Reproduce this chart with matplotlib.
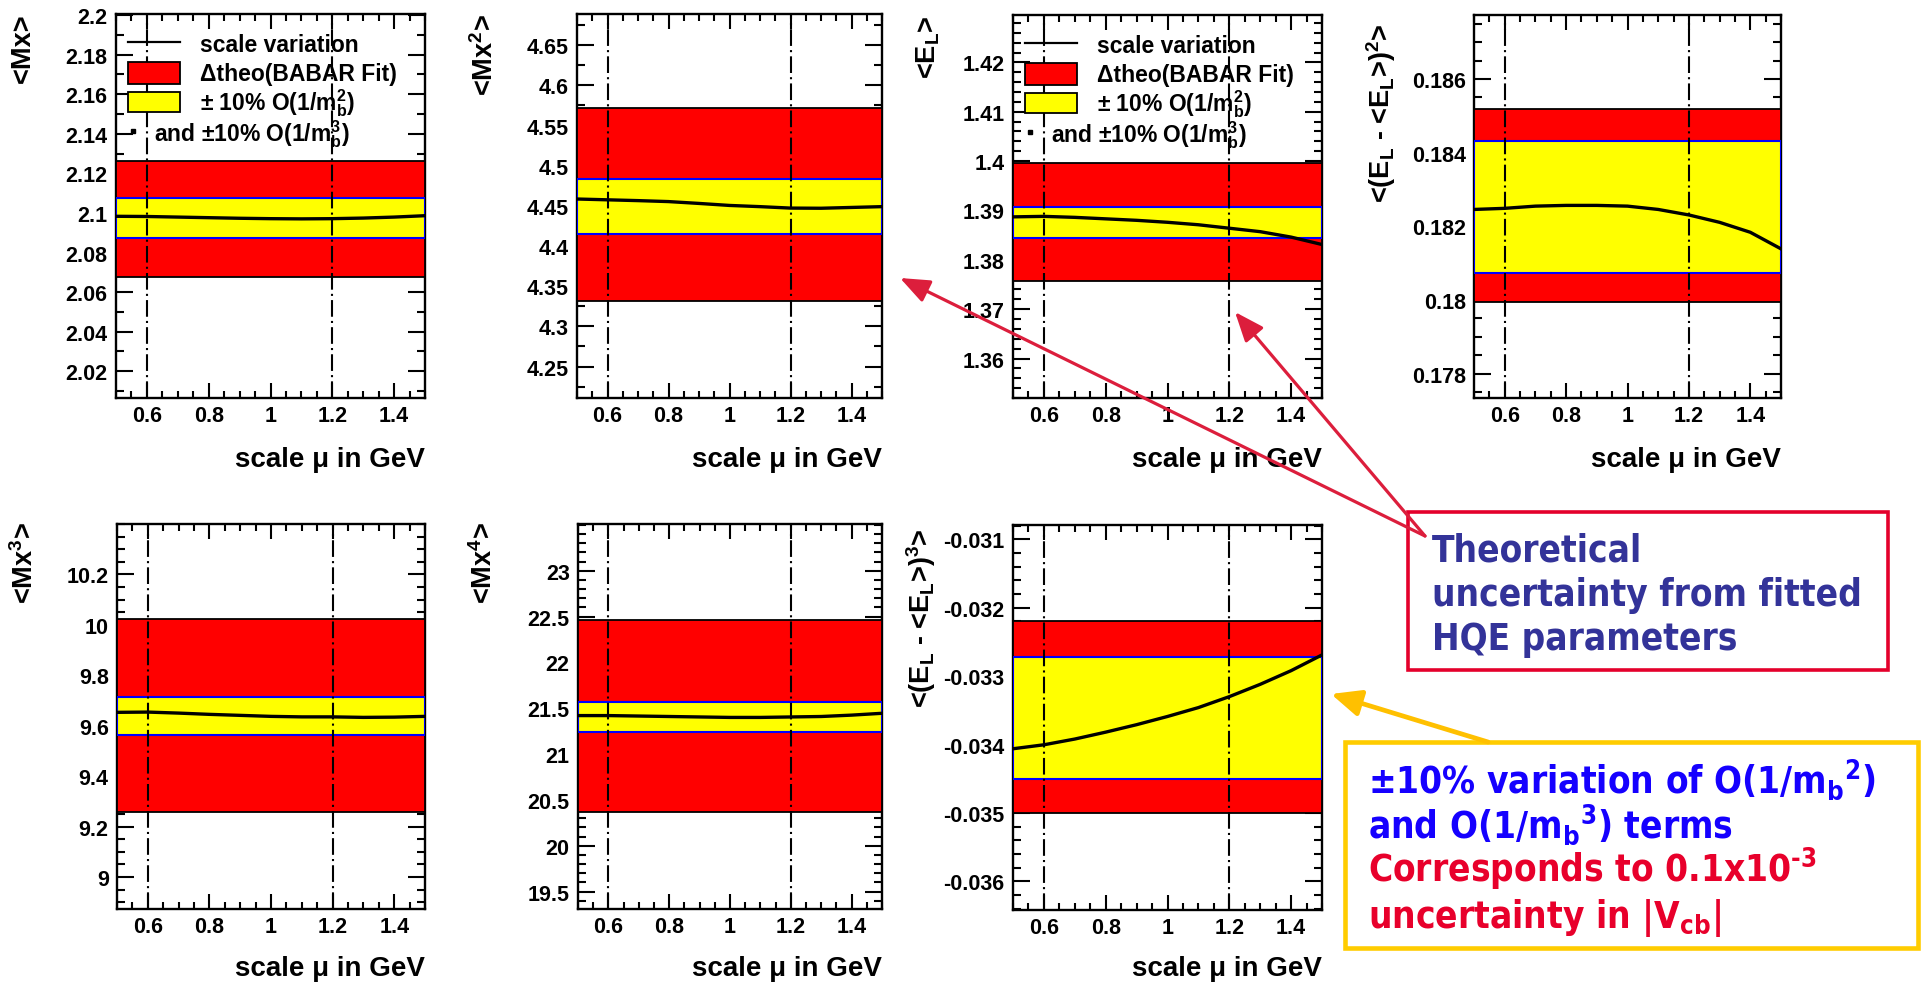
import matplotlib
matplotlib.use("Agg")
import matplotlib.pyplot as plt
from matplotlib.patches import Rectangle, FancyArrowPatch
from matplotlib.ticker import FixedLocator, MultipleLocator, FuncFormatter
from matplotlib import font_manager
from matplotlib.font_manager import FontProperties

plt.rcParams['font.family'] = ['Liberation Sans', 'DejaVu Sans']
plt.rcParams['font.weight'] = 'bold'
plt.rcParams['mathtext.default'] = 'regular'

W, H = 1921, 987

# ---------------- data ----------------
mu = [0.5, 0.6, 0.7, 0.8, 0.9, 1.0, 1.1, 1.2, 1.3, 1.4, 1.5]

mx1_line = [2.0983, 2.0982, 2.0979, 2.0976, 2.0973, 2.0971, 2.0970, 2.0971, 2.0974, 2.0979, 2.0986]
mx1_red = (2.0677, 2.1264)
mx1_yellow = (2.0871, 2.1073)
mx1_ylim = (2.0065, 2.2005)
mx1_ticks = [2.02, 2.04, 2.06, 2.08, 2.1, 2.12, 2.14, 2.16, 2.18, 2.2]

mx2_line = [4.4585, 4.4575, 4.4565, 4.4553, 4.4530, 4.4505, 4.4490, 4.4472, 4.4470, 4.4480, 4.4490]
mx2_red = (4.331, 4.572)
mx2_yellow = (4.415, 4.4837)
mx2_ylim = (4.2108, 4.6888)
mx2_ticks = [4.25, 4.3, 4.35, 4.4, 4.45, 4.5, 4.55, 4.6, 4.65]

el_line = [1.3887, 1.3888, 1.3886, 1.3883, 1.3880, 1.3876, 1.3871, 1.3864, 1.3857, 1.3846, 1.3831]
el_red = (1.3757, 1.3996)
el_yellow = (1.3845, 1.3908)
el_ylim = (1.3520, 1.4296)
el_ticks = [1.36, 1.37, 1.38, 1.39, 1.40, 1.41, 1.42]

el2_line = [0.18246, 0.18249, 0.18255, 0.18257, 0.18257, 0.18255, 0.18246, 0.18231, 0.18211, 0.18184, 0.18139]
el2_red = (0.17996, 0.18519)
el2_yellow = (0.18074, 0.18431)
el2_ylim = (0.17734, 0.18774)
el2_ticks = [0.178, 0.180, 0.182, 0.184, 0.186]

mx3_line = [9.653, 9.654, 9.650, 9.645, 9.641, 9.637, 9.635, 9.635, 9.633, 9.634, 9.637]
mx3_red = (9.258, 10.024)
mx3_yellow = (9.563, 9.715)
mx3_ylim = (8.873, 10.400)
mx3_ticks = [9.0, 9.2, 9.4, 9.6, 9.8, 10.0, 10.2]

mx4_line = [21.42, 21.42, 21.415, 21.41, 21.405, 21.40, 21.40, 21.405, 21.41, 21.425, 21.445]
mx4_red = (20.366, 22.46)
mx4_yellow = (21.245, 21.572)
mx4_ylim = (19.31, 23.51)
mx4_ticks = [19.5, 20.0, 20.5, 21.0, 21.5, 22.0, 22.5, 23.0]

el3_line = [-0.034062, -0.034004, -0.03392, -0.033819, -0.03371, -0.03359,
            -0.03346, -0.03330, -0.03312, -0.03292, -0.03269]
el3_red = (-0.03500, -0.03219)
el3_yellow = (-0.034505, -0.032723)
el3_ylim = (-0.03642, -0.03079)
el3_ticks = [-0.036, -0.035, -0.034, -0.033, -0.032, -0.031]

x_ticks = [0.6, 0.8, 1.0, 1.2, 1.4]
scale_marks = [0.6, 1.2]

titles = [r"<Mx>", r"<Mx$^{2}$>", r"<E$_{L}$>", r"<(E$_{L}$ - <E$_{L}$>)$^{2}$>",
          r"<Mx$^{3}$>", r"<Mx$^{4}$>", r"<(E$_{L}$ - <E$_{L}$>)$^{3}$>"]

legend_labels = ["scale variation", u"\u0394theo(BABAR Fit)",
                 u"\u00b1 10% O(1/m$_{b}^{2}$)", u"and \u00b110% O(1/m$_{b}^{3}$)"]

# ---------------- layout (pixels: left, top, right, bottom) ----------------
panels = [
    dict(rect=(116, 15, 425, 399), line=mx1_line, red=mx1_red, yel=mx1_yellow, ylim=mx1_ylim,
         ticks=mx1_ticks, minor=0.01, title=titles[0], tx=23, ty=13, key=True),
    dict(rect=(577, 15, 882, 399), line=mx2_line, red=mx2_red, yel=mx2_yellow, ylim=mx2_ylim,
         ticks=mx2_ticks, minor=0.025, title=titles[1], tx=485, ty=14, key=False),
    dict(rect=(1013, 16, 1322, 399), line=el_line, red=el_red, yel=el_yellow, ylim=el_ylim,
         ticks=el_ticks, minor=0.002, title=titles[2], tx=928, ty=16, key=True),
    dict(rect=(1474, 16, 1781, 399), line=el2_line, red=el2_red, yel=el2_yellow, ylim=el2_ylim,
         ticks=el2_ticks, minor=0.0005, title=titles[3], tx=1381, ty=24, key=False),
    dict(rect=(117, 525, 425, 910), line=mx3_line, red=mx3_red, yel=mx3_yellow, ylim=mx3_ylim,
         ticks=mx3_ticks, minor=0.05, title=titles[4], tx=25, ty=522, key=False),
    dict(rect=(578, 525, 882, 910), line=mx4_line, red=mx4_red, yel=mx4_yellow, ylim=mx4_ylim,
         ticks=mx4_ticks, minor=0.1, title=titles[5], tx=484, ty=522, key=False),
    dict(rect=(1013, 526, 1322, 911), line=el3_line, red=el3_red, yel=el3_yellow, ylim=el3_ylim,
         ticks=el3_ticks, minor=0.0002, title=titles[6], tx=921, ty=529, key=False),
]

fig = plt.figure(figsize=(W / 100, H / 100), dpi=100)
fig.patch.set_facecolor('white')


def frac_rect(l, t, r, b):
    return [l / W, 1 - b / H, (r - l) / W, (b - t) / H]


def fpt(x, y):
    return (x / W, 1 - y / H)


fmt = FuncFormatter(lambda v, p: f"{v:.6g}")


def draw_key(ax, wpx, hpx):
    def a(dx, dy):
        return (dx / wpx, 1 - dy / hpx)
    kw = dict(transform=ax.transAxes, clip_on=False)
    ax.plot([a(12, 0)[0], a(64, 0)[0]], [a(0, 28)[1]] * 2, color='black', lw=1.6, zorder=6, **kw)
    for (y0, y1), col in (((48, 70), '#ff0000'), ((78, 98), '#ffff00')):
        x0, yb = a(12, y1)
        x1, yt = a(64, y0)
        ax.add_patch(Rectangle((x0, yb), x1 - x0, yt - yb, facecolor=col,
                               edgecolor='black', lw=1.3, zorder=6, **kw))
    ax.plot([a(17, 0)[0]], [a(0, 117)[1]], marker='s', ms=3, color='black', zorder=6, **kw)
    for (dx, dy), lab in zip(((84, 37), (84, 66), (84, 95), (38, 126)), legend_labels):
        ax.text(*a(dx, dy), lab, ha='left', va='baseline', fontsize=16.5, zorder=6,
                transform=ax.transAxes)


for p in panels:
    l, t, r, b = p['rect']
    ax = fig.add_axes(frac_rect(l, t, r, b))
    ax.set_xlim(0.5, 1.5)
    ax.set_ylim(*p['ylim'])
    ax.axhspan(*p['red'], facecolor='#ff0000', edgecolor='black', lw=1.3, zorder=1)
    ax.axhspan(*p['yel'], facecolor='#ffff00', edgecolor='#0000ff', lw=1.5, zorder=1.1)
    ax.plot(mu, p['line'], color='black', lw=2.4, zorder=3)
    for xv in scale_marks:
        ax.axvline(xv, color='black', lw=1.5, ls=(0, (8, 2, 1, 2)), zorder=2.8)
    ax.set_axisbelow(True)
    for s in ax.spines.values():
        s.set_linewidth(1.7)
        s.set_zorder(0.8)
    ax.xaxis.set_major_locator(FixedLocator(x_ticks))
    ax.xaxis.set_minor_locator(MultipleLocator(0.05))
    ax.yaxis.set_major_locator(FixedLocator(p['ticks']))
    ax.yaxis.set_minor_locator(MultipleLocator(p['minor']))
    ax.xaxis.set_major_formatter(fmt)
    ax.yaxis.set_major_formatter(fmt)
    ax.tick_params(which='both', direction='in', top=True, right=True, width=1.5,
                   labelsize=15.5, colors='black')
    ax.tick_params(axis='x', which='major', length=11, pad=5)
    ax.tick_params(axis='x', which='minor', length=5)
    ax.tick_params(axis='y', which='major', length=12, pad=6)
    ax.tick_params(axis='y', which='minor', length=6)
    fig.text(p['tx'] / W, 1 - p['ty'] / H, p['title'], rotation=90, ha='center', va='top',
             fontsize=19.5)
    xl_base = 467 if t < 300 else 976
    fig.text(r / W, 1 - xl_base / H, u"scale \u03bc in GeV", ha='right', va='baseline',
             fontsize=20)
    if p['key']:
        draw_key(ax, r - l, b - t)

# ---------------- call-out boxes ----------------
cond = [f.fname for f in font_manager.fontManager.ttflist
        if f.name == 'DejaVu Sans' and 'Condensed' in f.fname and 'Bold' in f.fname
        and 'Oblique' not in f.fname]
if cond:
    callout_fp = FontProperties(fname=cond[0], size=26.5)
else:
    callout_fp = FontProperties(family='DejaVu Sans', weight='bold', size=24)

navy = '#333399'
blue = '#1500ff'
crimson = '#e8002b'
gold = '#ffcc00'

fig.add_artist(Rectangle(fpt(1408, 671), (1888 - 1408) / W, (671 - 513) / H,
                         transform=fig.transFigure, fill=False, edgecolor='#e4002b', lw=2.6,
                         zorder=10))
fig.add_artist(Rectangle(fpt(1345, 949), (1918 - 1345) / W, (949 - 743) / H,
                         transform=fig.transFigure, fill=False, edgecolor=gold, lw=3.3,
                         zorder=10))

for txt, yb in (("Theoretical", 562), ("uncertainty from fitted", 606), ("HQE parameters", 650)):
    fig.text(*fpt(1432, yb), txt, color=navy, fontproperties=callout_fp, ha='left',
             va='baseline', zorder=11)

callout2 = [
    (u"\u00b110% variation of O(1/m${}_{b}{}^{2}$)", blue, 793),
    (u"and O(1/m${}_{b}{}^{3}$) terms", blue, 838),
    (u"Corresponds to 0.1x10$^{\u20103}$", crimson, 883),
    (u"uncertainty in |V$_{cb}$|", crimson, 928),
]
for txt, col, yb in callout2:
    fig.text(*fpt(1368, yb), txt, color=col, fontproperties=callout_fp, ha='left',
             va='baseline', zorder=11)

for tip in ((900, 279), (1235, 313)):
    fig.add_artist(FancyArrowPatch(fpt(1425, 537), fpt(*tip), transform=fig.transFigure,
                                   arrowstyle='-|>,head_length=0.9,head_width=0.36',
                                   mutation_scale=20, color='#dc1e3c', lw=2.3,
                                   shrinkA=0, shrinkB=0, zorder=12))
fig.add_artist(FancyArrowPatch(fpt(1488, 743), fpt(1331, 695), transform=fig.transFigure,
                               arrowstyle='-|>,head_length=0.9,head_width=0.4',
                               mutation_scale=20, color='#ffc000', lw=3.4,
                               shrinkA=0, shrinkB=0, zorder=12))

fig.savefig('out.png', dpi=100, facecolor='white')
